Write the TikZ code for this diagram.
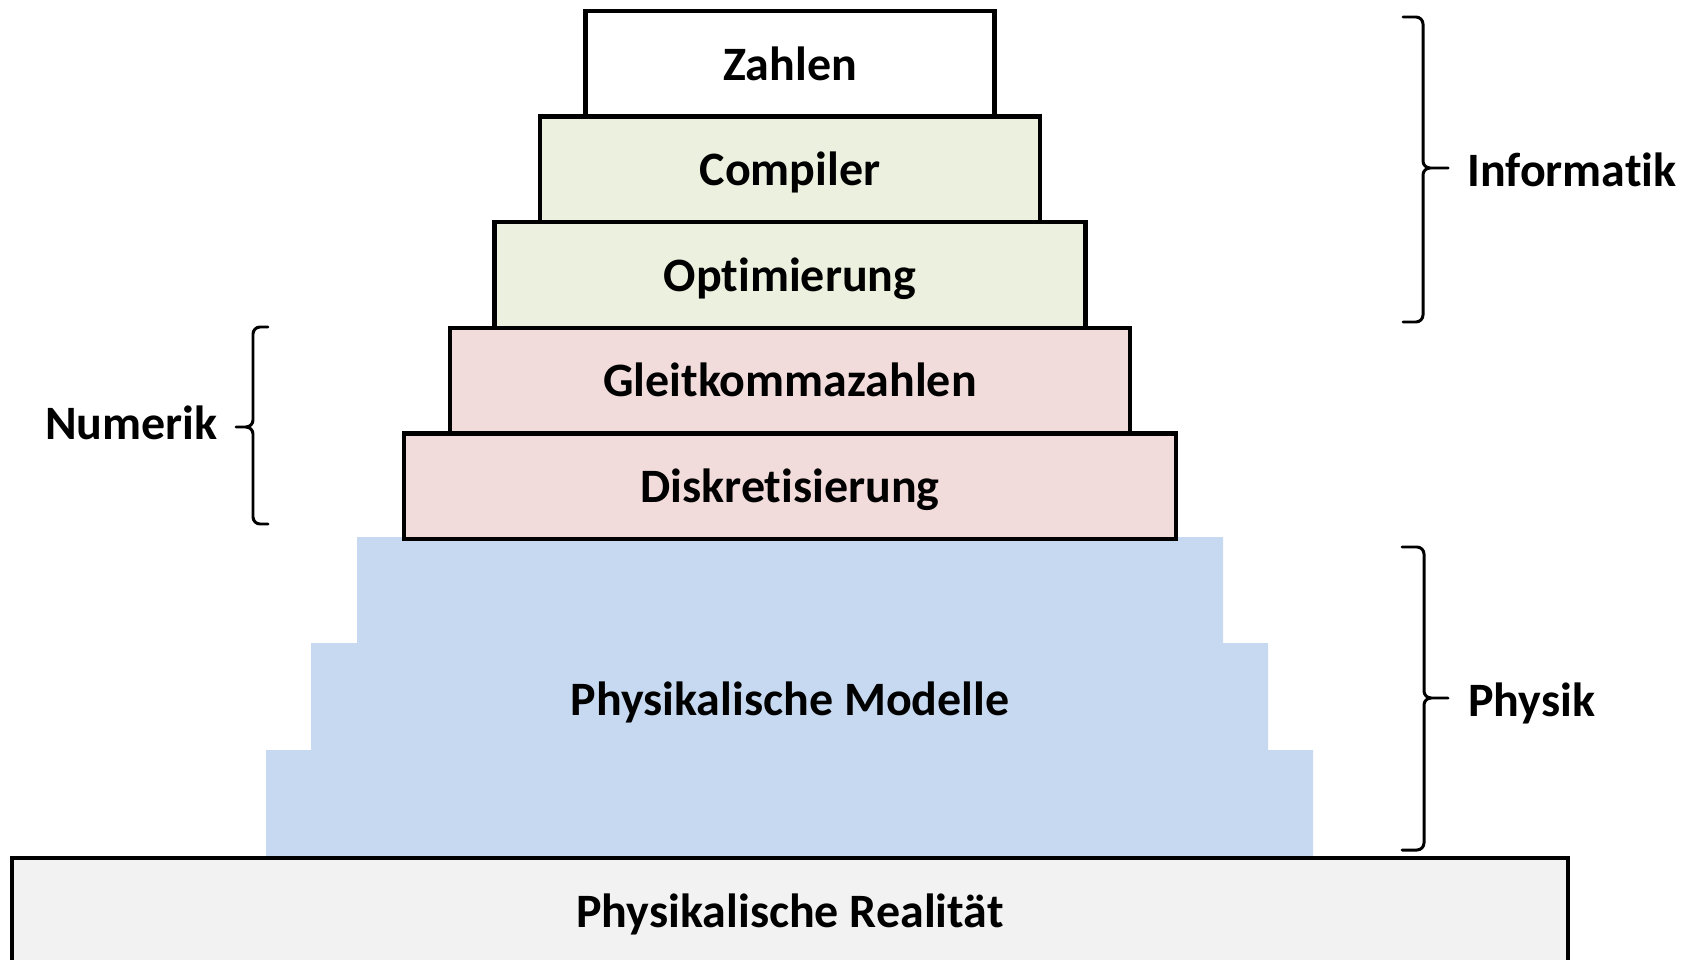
\documentclass[tikz,border=0pt]{standalone}
\usepackage{fontspec}
\setmainfont{Carlito}[Ligatures={NoCommon,NoRare}]
\definecolor{layergreen}{HTML}{EBF1DE}
\definecolor{layerred}{HTML}{F2DCDB}
\definecolor{layerblue}{HTML}{C6D9F1}
\definecolor{layergrey}{HTML}{F2F2F2}
\tikzset{
  layer/.style={draw=black, line width=2.5pt, rectangle, inner sep=0pt,
    minimum height=2.112cm, text height=18.6pt, text depth=0pt,
    font=\bfseries\fontsize{27.3}{32}\selectfont},
  sidelabel/.style={inner sep=0pt, text height=18.6pt, text depth=0pt,
    font=\bfseries\fontsize{27.3}{32}\selectfont},
  bracket/.style={draw=black, line width=1.7pt, line cap=round, line join=round}
}
\begin{document}
\begin{tikzpicture}[x=0.02cm, y=-0.02cm]
  \useasboundingbox (0,0) rectangle (1695,960);
  \clip (0,0) rectangle (1695,960);

  % stepped block for the physical models
  \fill[layerblue] (357,537) -- (1223,537) -- (1223,643) -- (1268,643)
    -- (1268,750) -- (1313,750) -- (1313,858) -- (266,858) -- (266,750)
    -- (311,750) -- (311,643) -- (357,643) -- cycle;
  \node[sidelabel] (modelle) at (790,699) {Physikalische Modelle};

  % base layer
  \node[layer, fill=layergrey, minimum width=31.12cm] (realitaet) at (790,911)
    {Physikalische Realität};

  % stacked layers
  \node[layer, fill=layerred,   minimum width=15.44cm] (diskret) at (790,486.2) {Diskretisierung};
  \node[layer, fill=layerred,   minimum width=13.60cm] (gleit)   at (790,380.6) {Gleitkommazahlen};
  \node[layer, fill=layergreen, minimum width=11.82cm] (optim)   at (790,275.0) {Optimierung};
  \node[layer, fill=layergreen, minimum width=10.00cm] (comp)    at (790,169.4) {Compiler};
  \node[layer, fill=white,      minimum width=8.18cm]  (zahlen)  at (790,63.8)  {Zahlen};

  % brace: Informatik
  \draw[bracket] (1403,17) -- (1416,17) to[out=0,in=90] (1423,24) -- (1423,161)
    to[out=-90,in=180] (1430,168) -- (1448,168);
  \draw[bracket] (1430,168) to[out=180,in=90] (1423,175) -- (1423,315)
    to[out=-90,in=0] (1416,322) -- (1403,322);
  \node[sidelabel, anchor=west] (informatik) at (1467,170) {Informatik};

  % brace: Physik
  \draw[bracket] (1402,547) -- (1417,547) to[out=0,in=90] (1424,554) -- (1424,691)
    to[out=-90,in=180] (1431,698) -- (1448,698);
  \draw[bracket] (1431,698) to[out=180,in=90] (1424,705) -- (1424,843)
    to[out=-90,in=0] (1417,850) -- (1402,850);
  \node[sidelabel, anchor=west] (physik) at (1468,700) {Physik};

  % brace: Numerik
  \draw[bracket] (268,327) -- (260,327) to[out=180,in=90] (253,334) -- (253,420)
    to[out=-90,in=0] (246,427) -- (236,427);
  \draw[bracket] (246,427) to[out=0,in=90] (253,434) -- (253,517)
    to[out=-90,in=180] (260,524) -- (268,524);
  \node[sidelabel, anchor=east] (numerik) at (218,423) {Numerik};
\end{tikzpicture}
\end{document}
